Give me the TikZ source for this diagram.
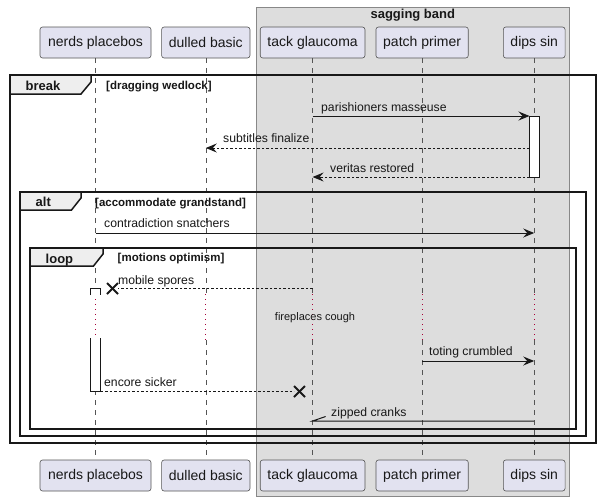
\documentclass[tikz,border=0pt]{standalone}
\usepackage{fontspec}
\setmainfont{Liberation Sans}
\usetikzlibrary{arrows.meta,calc}
\definecolor{partfill}{HTML}{E2E2F0}
\definecolor{partline}{HTML}{555555}
\definecolor{grpfill}{HTML}{DDDDDD}
\definecolor{grpline}{HTML}{888888}
\definecolor{tabfill}{HTML}{EEEEEE}
\definecolor{ink}{HTML}{181818}
\definecolor{lifeline}{HTML}{555555}
\definecolor{delayred}{HTML}{A80036}
\begin{document}
\begin{tikzpicture}[x=1pt,y=-1pt,
  part/.style={draw=partline, line width=0.6pt, fill=partfill, rounded corners=2.5pt,
    minimum height=31pt, inner sep=0pt, text=ink, font=\fontsize{14}{16}\selectfont},
  lifedash/.style={draw=lifeline, line width=0.6pt, dash pattern=on 5pt off 5pt},
  lifedot/.style={draw=delayred, line width=0.9pt, dash pattern=on 1pt off 4pt},
  frameline/.style={draw=ink, line width=1.5pt},
  tabshape/.style={draw=ink, line width=1.5pt, fill=tabfill},
  framelabel/.style={anchor=base west, inner sep=0pt, text=ink, font=\bfseries\fontsize{13}{15}\selectfont},
  guardlabel/.style={anchor=base west, inner sep=0pt, text=ink, font=\bfseries\fontsize{11.5}{13}\selectfont},
  msglabel/.style={anchor=base west, inner sep=0pt, text=ink, font=\fontsize{12.2}{14}\selectfont},
  msg/.style={draw=ink, line width=1pt, -{Stealth[length=11pt, width=9pt, inset=4pt]}},
  msgdash/.style={msg, dash pattern=on 2.5pt off 2pt},
  plainmsg/.style={draw=ink, line width=1pt},
  plaindash/.style={draw=ink, line width=1pt, dash pattern=on 2.5pt off 2pt},
  actbar/.style={draw=ink, line width=1pt, fill=white},
  xmark/.style={draw=ink, line width=2pt}
]
\useasboundingbox (0,0) rectangle (600,501);
\fill[white] (0,0) rectangle (600,501);

% group box
\draw[grpline, fill=grpfill, line width=0.7pt] (256.3,7) rectangle (569.3,496);
\node[anchor=base, inner sep=0pt, text=ink, font=\bfseries\fontsize{13}{15}\selectfont] (grp) at (412.8,18.5) {sagging band};

% participants
\node[part, minimum width=111pt]  (p1) at (95.5,42.5) {nerds placebos};
\node[part, minimum width=88.3pt] (p2) at (205.8,42.5) {dulled basic};
\node[part, minimum width=104.7pt](p3) at (312.6,42.5) {tack glaucoma};
\node[part, minimum width=92.3pt] (p4) at (422.1,42.5) {patch primer};
\node[part, minimum width=61.7pt] (p5) at (534.2,42.5) {dips sin};
\node[part, minimum width=111pt]  (q1) at (95.5,475.5) {nerds placebos};
\node[part, minimum width=88.3pt] (q2) at (205.8,475.5) {dulled basic};
\node[part, minimum width=104.7pt](q3) at (312.6,475.5) {tack glaucoma};
\node[part, minimum width=92.3pt] (q4) at (422.1,475.5) {patch primer};
\node[part, minimum width=61.7pt] (q5) at (534.2,475.5) {dips sin};

% lifelines with delay
\foreach \i in {1,...,5}{
  \coordinate (da\i) at (p\i.south |- 0,294);
  \coordinate (db\i) at (p\i.south |- 0,340);
  \draw[lifedash] (p\i.south) -- (da\i);
  \draw[lifedot] (da\i) -- (db\i);
  \draw[lifedash] (db\i) -- (q\i.north);
}

% frames
\draw[frameline] (10,75) rectangle (596,443);
\draw[tabshape] (10,75) -- (91,75) -- (91,82) -- (81,94) -- (10,94) -- cycle;
\node[framelabel] (fb) at (25.5,90) {break};
\node[guardlabel] (gb) at (106,89) {[dragging wedlock]};

\draw[frameline] (20,192) rectangle (586,436);
\draw[tabshape] (20,192) -- (81,192) -- (81,198) -- (71.5,210) -- (20,210) -- cycle;
\node[framelabel] (fa) at (35.5,206.5) {alt};
\node[guardlabel] (ga) at (95,206) {[accommodate grandstand]};

\draw[frameline] (30,248) rectangle (576,429);
\draw[tabshape] (30,248) -- (103,248) -- (103,254) -- (93.5,266) -- (30,266) -- cycle;
\node[framelabel] (fl) at (45.5,263) {loop};
\node[guardlabel] (gl) at (117.5,261.5) {[motions optimism]};

% activation bars
\draw[actbar] (529.5,116) rectangle (539.5,177);
\draw[actbar] (90.5,295) -- (90.5,288) -- (100.5,288) -- (100.5,295);
\fill[white] (90.5,338) rectangle (100.5,391.5);
\draw[actbar] (90.5,338) -- (90.5,391.5) -- (100.5,391.5) -- (100.5,338);

% message end points
\coordinate (a1) at (p3 |- 0,116);   \coordinate (b1) at (529.5,116);
\coordinate (a2) at (529.5,148);     \coordinate (b2) at (p2 |- 0,148);
\coordinate (a3) at (529.5,177);     \coordinate (b3) at (p3 |- 0,177);
\coordinate (a4) at (p1 |- 0,233);   \coordinate (b4) at (p5 |- 0,233);
\coordinate (a5) at (p3 |- 0,288);   \coordinate (x5) at (112.5,288.5); \coordinate (b5) at (118,288);
\coordinate (a6) at (p4 |- 0,361);   \coordinate (b6) at (p5 |- 0,361);
\coordinate (a7) at (100.5,391.5);   \coordinate (x7) at (299.5,391.5); \coordinate (b7) at (294,391.5);
\coordinate (a8) at (p5 |- 0,421);   \coordinate (b8) at (p3 |- 0,421);

% messages
\draw[msg] (a1) -- (b1);
\node[msglabel] (l1) at (321,111) {parishioners masseuse};
\draw[msgdash] (a2) -- (b2);
\node[msglabel] (l2) at (223,142) {subtitles finalize};
\draw[msgdash] (a3) -- (b3);
\node[msglabel] (l3) at (330,172.5) {veritas restored};
\draw[msg] (a4) -- (b4);
\node[msglabel] (l4) at (104,227.5) {contradiction snatchers};
\draw[plaindash] (a5) -- (b5);
\draw[xmark] ($(x5)+(-5.5,-5.5)$) -- ($(x5)+(5.5,5.5)$);
\draw[xmark] ($(x5)+(-5.5,5.5)$) -- ($(x5)+(5.5,-5.5)$);
\node[msglabel] (l5) at (118,284) {mobile spores};
\node[inner sep=0pt, text=ink, font=\fontsize{11}{13}\selectfont] (dl) at (315,318) {fireplaces cough};
\draw[msg] (a6) -- (b6);
\node[msglabel] (l6) at (429,355.7) {toting crumbled};
\draw[plaindash] (a7) -- (b7);
\draw[xmark] ($(x7)+(-5.5,-5.5)$) -- ($(x7)+(5.5,5.5)$);
\draw[xmark] ($(x7)+(-5.5,5.5)$) -- ($(x7)+(5.5,-5.5)$);
\node[msglabel] (l7) at (104,386.3) {encore sicker};
\draw[plainmsg] (a8) -- (b8) -- ++(13,-4.5);
\node[msglabel] (l8) at (331,416.5) {zipped cranks};
\end{tikzpicture}
\end{document}
